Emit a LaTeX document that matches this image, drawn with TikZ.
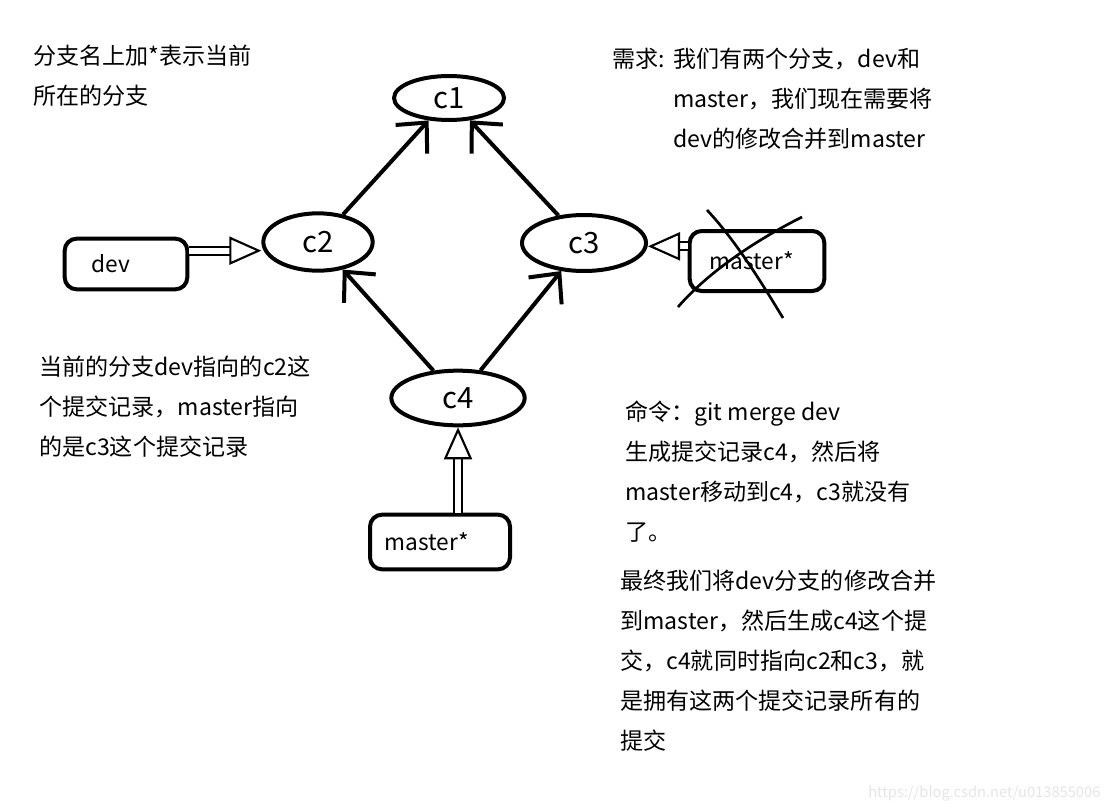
\documentclass[tikz,border=0pt]{standalone}
\usepackage{fontspec}
\setmainfont{Noto Sans CJK SC}
\usepackage{tikz}
\usetikzlibrary{calc, arrows.meta, positioning, shapes.geometric}
\definecolor{inkBlack}{gray}{0.0}
\definecolor{markGray}{gray}{0.9}

\tikzset{
  commit/.style={ellipse, draw=inkBlack, line width=3pt, inner sep=0pt, font=\fontsize{22}{22}\selectfont},
  branch/.style={rectangle, rounded corners=9pt, draw=inkBlack, line width=3pt, align=left, font=\fontsize{17}{17}\selectfont},
  sketcharrow/.style={line width=3pt, inkBlack, -{Straight Barb[length=17pt, width=32pt, line width=3pt]}},
  hollowarrow/.style={double=white, double distance=4.5pt, line width=1.6pt, -{Triangle[open, length=24pt, width=21pt, line width=1.6pt]}},
  note/.style={anchor=base west, inner sep=0pt, align=left, font=\fontsize{17.3}{30}\selectfont}
}

\begin{document}
\begin{tikzpicture}[x=0.75pt, y=-0.75pt]
    \useasboundingbox (0,0) rectangle (1112,810);

    % Commits
    \node[commit, minimum width=82.5pt, minimum height=33pt] (c1) at (449,98) {c1};
    \node[commit, minimum width=82pt, minimum height=43pt] (c2) at (318,242) {c2};
    \node[commit, minimum width=93pt, minimum height=42pt] (c3) at (584,243) {c3};
    \node[commit, minimum width=100pt, minimum height=41pt] (c4) at (458,398) {c4};

    % Branches
    \node[branch, text width=52pt, inner xsep=20pt, minimum height=38pt] (dev) at (126,264) {dev};
    \node[branch, text width=71pt, inner xsep=15pt, minimum height=45pt] (oldmaster) at (757,261) {\raisebox{-7pt}{master*}};
    \node[branch, text width=83pt, inner xsep=11pt, minimum height=41pt] (master) at (440,542) {master*};

    % Parent links
    \draw[sketcharrow] (c2) -- (c1);
    \draw[sketcharrow] (c3) -- (c1);
    \draw[sketcharrow] (c4) -- (c2);
    \draw[sketcharrow] (c4) -- (c3);

    % Branch pointers
    \coordinate (devout) at ([yshift=10pt]dev.east);
    \draw[hollowarrow] (devout) -- (devout -| c2.west);
    \coordinate (mout) at ([yshift=11pt]oldmaster.west);
    \draw[hollowarrow] (mout) -- (mout -| c3.east);
    \coordinate (mup) at (c4.south |- master.north);
    \draw[hollowarrow] (mup) -- (c4.south);

    % Crossed out
    \draw[line width=2pt, inkBlack] (707,210) .. controls (735,240) and (760,280) .. (783,318);
    \draw[line width=2pt, inkBlack] (802,217) .. controls (760,238) and (710,270) .. (678,307);

    % Notes (placed at the baseline of the last line)
    \node[note] (hint) at (33,104) {分支名上加*表示当前\\所在的分支};
    \node[note] (needlabel) at (612,67) {需求:};
    \node[note] (need) at (673,147) {我们有两个分支，dev和\\master，我们现在需要将\\dev的修改合并到master};
    \node[note] (before) at (39,455) {当前的分支dev指向的c2这\\个提交记录，master指向\\的是c3这个提交记录};
    \node[note] (cmd) at (625,540) {命令：git merge dev\\生成提交记录c4，然后将\\master移动到c4，c3就没有\\了。};
    \node[note] (after) at (620,749) {最终我们将dev分支的修改合并\\到master，然后生成c4这个提\\交，c4就同时指向c2和c3，就\\是拥有这两个提交记录所有的\\提交};

    \node[anchor=base west, inner sep=0pt, text=markGray, font=\fontsize{11}{11}\selectfont] (mark) at (868,797) {https://blog.csdn.net/u013855006};
\end{tikzpicture}
\end{document}
